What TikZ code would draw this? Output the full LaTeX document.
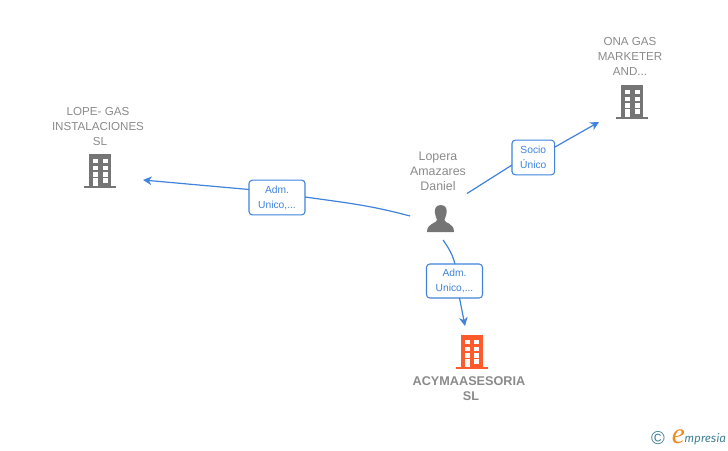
\documentclass[tikz,border=0pt]{standalone}
\usepackage{fontspec}
\usetikzlibrary{arrows.meta}
\setmainfont{Liberation Sans}
\newfontfamily\logoe{Liberation Serif}
\newfontfamily\logofont{Fira Sans}
\definecolor{linkblue}{HTML}{3F83DC}
\definecolor{labelgray}{HTML}{8A8A8A}
\definecolor{icongray}{HTML}{757575}
\definecolor{iconorange}{HTML}{FF5A2B}
\definecolor{logoteal}{HTML}{3F7F95}
\definecolor{logoorange}{HTML}{F08A1D}

\begin{document}
\begin{tikzpicture}[x=0.75pt,y=-0.75pt,
  name node/.style={align=center,text=labelgray,font=\fontsize{8.7}{11.25}\selectfont,inner sep=0pt},
  person node/.style={align=center,text=labelgray,font=\fontsize{9.3}{11.25}\selectfont,inner sep=0pt},
  main name node/.style={align=center,text=labelgray,font=\bfseries\fontsize{9.5}{11.25}\selectfont,inner sep=0pt},
  link node/.style={draw=linkblue,fill=white,thick,rounded corners=2.5pt,align=center,text=linkblue,font=\fontsize{7.7}{11.25}\selectfont,inner sep=0pt,execute at begin node={\rule{0pt}{10pt}}},
  link/.style={-{Stealth[length=6.5pt,width=6.5pt,inset=2pt]},linkblue,line width=0.9pt},
  plain link/.style={linkblue,line width=0.9pt},
  building/.pic={
    \fill (-11,-34) rectangle (11,-1);
    \fill (-16,-2.5) rectangle (16,0);
    \foreach \yy in {-29.5,-22.5,-15.7} {
      \fill[white] (-6.7,\yy) rectangle (-1.7,\yy+4.5);
      \fill[white] (2.7,\yy) rectangle (7.7,\yy+4.5);
    }
    \fill[white] (-6.7,-9.7) rectangle (-1.7,-2.5);
    \fill[white] (2.7,-9.7) rectangle (7.7,-5.5);
  }]

\useasboundingbox (0,0) rectangle (728,450);

% names
\node[name node] (lope) at (98,127) {LOPE- GAS\\INSTALACIONES\\\hspace{3pt}SL};
\node[name node] (ona) at (630,56) {ONA GAS\\MARKETER\\AND...};
\node[person node] (lopera) at (438,171) {Lopera\\Amazares\\Daniel};
\node[main name node] (acyma) at (469,388.5) {ACYMAASESORIA\\\hspace{3pt}SL};

% icons
\pic[icongray] at (100,188) {building};
\pic[icongray] at (632,119) {building};
\pic[iconorange] at (471.5,369) {building};
\fill[icongray] (440.7,205) .. controls (435,205) and (434.5,210) .. (435,213)
  .. controls (435.5,217) and (437,218.5) .. (437,220)
  .. controls (437,223.5) and (427,222.5) .. (427,232) -- (454,232)
  .. controls (454,222.5) and (444.5,223.5) .. (444.5,220)
  .. controls (444.5,218.5) and (446,217) .. (446.5,213)
  .. controls (447,210) and (446.5,205) .. (440.7,205) -- cycle;

% link labels
\node[link node,minimum width=42pt,minimum height=26pt] (adm1) at (277,197.5) {Adm.\hspace{3pt}\\Unico,...};
\node[link node,minimum width=32pt,minimum height=26pt] (socio) at (533.3,157.5) {Socio\\Único};
\node[link node,minimum width=42pt,minimum height=25.5pt] (adm2) at (454.5,281) {Adm.\hspace{3pt}\\Unico,...};

% free ends
\coordinate (s1) at (410,216);
\coordinate (s2) at (467,193.5);
\coordinate (s3) at (443,240);
\coordinate (e1) at (143,180);
\coordinate (e2) at (599,122);
\coordinate (e3) at (465,326);
\coordinate (a1) at (305,197);
\coordinate (a2) at (249,189.5);
\coordinate (b1) at (512,165);
\coordinate (b2) at (555,147);
\coordinate (c1) at (455,264);
\coordinate (c2) at (459.5,298);

\path[] (s1) [plain link] edge [out=165,in=-8] (a1);
\path[] (a2) [link] edge (e1);
\path[] (s2) [plain link] edge (b1);
\path[] (b2) [link] edge (e2);
\path[] (s3) [plain link] edge [out=-55,in=105] (c1);
\path[] (c2) [link] edge (e3);

% logo
\node[inner sep=0pt,text=logoteal,font=\fontsize{14}{14}\selectfont] (copyr) at (658,438) {\char"00A9};
\node[inner sep=0pt,text=logoorange,anchor=base,font=\logoe\itshape\fontsize{22}{22}\selectfont] (loge) at (678.5,443) {e};
\node[inner sep=0pt,text=logoteal,anchor=base west,font=\logofont\itshape\fontsize{8.7}{10}\selectfont] (logo) at (684,442.5) {mpresia};
\end{tikzpicture}
\end{document}
